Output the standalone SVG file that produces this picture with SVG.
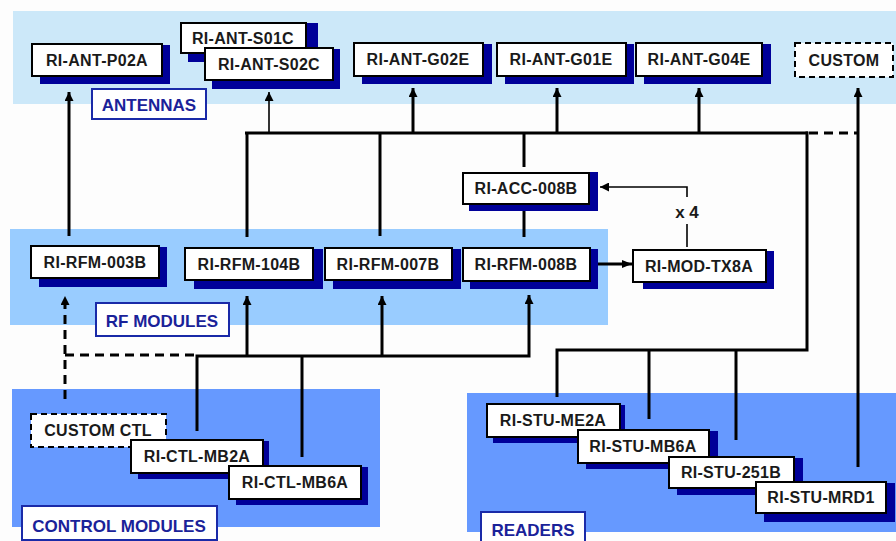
<svg xmlns="http://www.w3.org/2000/svg" width="896" height="541" viewBox="0 0 896 541">
<style>
.bg{fill:#fdfdfd}
.b1{fill:#cce8f9}
.b2{fill:#99ccff}
.b3{fill:#6699ff}
.box{fill:#ffffff;stroke:#000000;stroke-width:2}
.dbox{fill:#ffffff;stroke:#000000;stroke-width:2;stroke-dasharray:6 4}
.sh{fill:#000099}
.t{font-family:"Liberation Sans",Arial,sans-serif;font-weight:bold;font-size:16px;fill:#1a1a1a;text-anchor:middle;letter-spacing:0.3px}
.lb{fill:#ffffff;stroke:#1a2aa8;stroke-width:2}
.lt{font-family:"Liberation Sans",Arial,sans-serif;font-weight:bold;font-size:17px;fill:#1a2299;text-anchor:middle}
.w{fill:none;stroke:#000000;stroke-width:3}
.thin{fill:none;stroke:#000000;stroke-width:1.6}
.dash{fill:none;stroke:#000000;stroke-width:3;stroke-dasharray:9 6}
</style>
<defs>
<marker id="ah" viewBox="0 0 10 10" refX="10" refY="5" markerWidth="9" markerHeight="9" markerUnits="userSpaceOnUse" orient="auto">
<path d="M0,0 L10,5 L0,10 z" fill="#000000"/>
</marker>
<marker id="ahs" viewBox="0 0 10 10" refX="10" refY="5" markerWidth="10" markerHeight="10" markerUnits="userSpaceOnUse" orient="auto">
<path d="M0,1 L10,5 L0,9 z" fill="#000000"/>
</marker>
</defs>
<rect class="bg" x="0" y="0" width="896" height="541"/>
<g id="bands">
<rect class="b1" x="13" y="11" width="883" height="93"/>
<rect class="b2" x="10" y="229" width="598" height="96"/>
<rect class="b3" x="12" y="389" width="368" height="138"/>
<rect class="b3" x="467" y="393" width="429" height="139"/>
</g>
<g id="connectors">
<line class="w" x1="69" y1="236" x2="69" y2="92" marker-end="url(#ah)"/>
<polyline class="w" points="245,133 808,133"/>
<line class="w" x1="247" y1="132" x2="247" y2="237"/>
<line class="thin" x1="269" y1="133" x2="269" y2="92" marker-end="url(#ah)"/>
<line class="w" x1="380" y1="132" x2="380" y2="236"/>
<line class="w" x1="413" y1="133" x2="413" y2="88" marker-end="url(#ah)"/>
<line class="w" x1="524" y1="133" x2="524" y2="167"/>
<line class="w" x1="557" y1="133" x2="557" y2="88" marker-end="url(#ah)"/>
<line class="w" x1="699" y1="133" x2="699" y2="88" marker-end="url(#ah)"/>
<polyline class="w" points="807,131.5 807,350 557,350 557,397"/>
<line class="dash" x1="809" y1="133" x2="858" y2="133"/>
<line class="w" x1="858" y1="467" x2="858" y2="88" marker-end="url(#ah)"/>
<line class="w" x1="524" y1="208" x2="524" y2="237"/>
<polyline class="thin" points="687,247 687,224"/>
<polyline class="thin" points="687,197 687,187 600,187" marker-end="url(#ah)"/>
<line class="w" x1="593" y1="264" x2="632" y2="264" marker-end="url(#ahs)"/>
<polyline class="w" points="197,431 197,356 529,356 529,295" marker-end="url(#ah)"/>
<line class="w" x1="247" y1="356" x2="247" y2="296" marker-end="url(#ah)"/>
<line class="w" x1="382" y1="356" x2="382" y2="296" marker-end="url(#ah)"/>
<line class="w" x1="302" y1="356" x2="302" y2="457"/>
<line class="dash" x1="65" y1="399" x2="65" y2="296" marker-end="url(#ah)"/>
<line class="dash" x1="65" y1="355" x2="197" y2="355"/>
<line class="w" x1="649" y1="350" x2="649" y2="419"/>
<line class="w" x1="736" y1="350" x2="736" y2="440"/>
<text x="687" y="218" style="font-family:'Liberation Sans',Arial,sans-serif;font-weight:bold;font-size:17px;fill:#1a1a1a;text-anchor:middle">x 4</text>
</g>
<g id="ant-p02a"><rect class="sh" x="40" y="45" width="130" height="39"/><rect class="box" x="32" y="44" width="130" height="32"/><text class="t" x="97" y="66">RI-ANT-P02A</text></g>
<g id="ant-s01c"><rect class="sh" x="188" y="23" width="130" height="39"/><rect class="box" x="181" y="23" width="125" height="30"/><text class="t" x="243" y="44">RI-ANT-S01C</text></g>
<g id="ant-s02c"><rect class="sh" x="212" y="49" width="128" height="40"/><rect class="box" x="205" y="48" width="128" height="32"/><text class="t" x="269" y="70">RI-ANT-S02C</text></g>
<g id="ant-g02e"><rect class="sh" x="362" y="44" width="130" height="40"/><rect class="box" x="354" y="43" width="129" height="33"/><text class="t" x="418" y="65">RI-ANT-G02E</text></g>
<g id="ant-g01e"><rect class="sh" x="505" y="44" width="129" height="40"/><rect class="box" x="497" y="43" width="129" height="33"/><text class="t" x="561" y="65">RI-ANT-G01E</text></g>
<g id="ant-g04e"><rect class="sh" x="644" y="44" width="127" height="40"/><rect class="box" x="636" y="43" width="126" height="33"/><text class="t" x="699" y="65">RI-ANT-G04E</text></g>
<g id="custom"><rect class="dbox" x="795" y="43" width="98" height="34"/><text class="t" x="844" y="66">CUSTOM</text></g>
<g id="rfm-003b"><rect class="sh" x="39" y="247" width="128" height="40"/><rect class="box" x="31" y="246" width="128" height="32"/><text class="t" x="95" y="268">RI-RFM-003B</text></g>
<g id="rfm-104b"><rect class="sh" x="194" y="249" width="129" height="40"/><rect class="box" x="185" y="248" width="128" height="32"/><text class="t" x="249" y="270">RI-RFM-104B</text></g>
<g id="rfm-007b"><rect class="sh" x="333" y="249" width="128" height="40"/><rect class="box" x="325" y="248" width="127" height="32"/><text class="t" x="388" y="270">RI-RFM-007B</text></g>
<g id="rfm-008b"><rect class="sh" x="470" y="249" width="128" height="40"/><rect class="box" x="463" y="248" width="127" height="33"/><text class="t" x="526" y="270">RI-RFM-008B</text></g>
<g id="acc-008b"><rect class="sh" x="469" y="172" width="129" height="39"/><rect class="box" x="463" y="173" width="126" height="31"/><text class="t" x="526" y="194">RI-ACC-008B</text></g>
<g id="mod-tx8a"><rect class="sh" x="643" y="251" width="131" height="38"/><rect class="box" x="633" y="250" width="133" height="32"/><text class="t" x="699" y="272">RI-MOD-TX8A</text></g>
<g id="custom-ctl"><rect class="dbox" x="31" y="414" width="135" height="33"/><text class="t" x="98" y="436">CUSTOM CTL</text></g>
<g id="ctl-mb2a"><rect class="sh" x="138" y="441" width="131" height="38"/><rect class="box" x="131" y="440" width="132" height="33"/><text class="t" x="197" y="462">RI-CTL-MB2A</text></g>
<g id="ctl-mb6a"><rect class="sh" x="236" y="467" width="132" height="38"/><rect class="box" x="229" y="466" width="132" height="33"/><text class="t" x="295" y="488">RI-CTL-MB6A</text></g>
<g id="stu-me2a"><rect class="sh" x="493" y="405" width="132" height="38"/><rect class="box" x="487" y="404" width="133" height="33"/><text class="t" x="553" y="426">RI-STU-ME2A</text></g>
<g id="stu-mb6a"><rect class="sh" x="586" y="431" width="132" height="38"/><rect class="box" x="578" y="430" width="131" height="33"/><text class="t" x="643" y="452">RI-STU-MB6A</text></g>
<g id="stu-251b"><rect class="sh" x="677" y="458" width="126" height="37"/><rect class="box" x="669" y="457" width="125" height="31"/><text class="t" x="731" y="478">RI-STU-251B</text></g>
<g id="stu-mrd1"><rect class="sh" x="764" y="483" width="131" height="39"/><rect class="box" x="756" y="482" width="130" height="31"/><text class="t" x="821" y="503">RI-STU-MRD1</text></g>
<g id="labels">
<rect class="lb" x="92" y="89" width="114" height="30"/><text class="lt" x="149" y="111">ANTENNAS</text>
<rect class="lb" x="96" y="303" width="133" height="33"/><text class="lt" x="162" y="327">RF MODULES</text>
<rect class="lb" x="22" y="506" width="195" height="34"/><text class="lt" x="119" y="532">CONTROL MODULES</text>
<rect class="lb" x="481" y="512" width="104" height="36"/><text class="lt" x="533" y="536">READERS</text>
</g>
</svg>
